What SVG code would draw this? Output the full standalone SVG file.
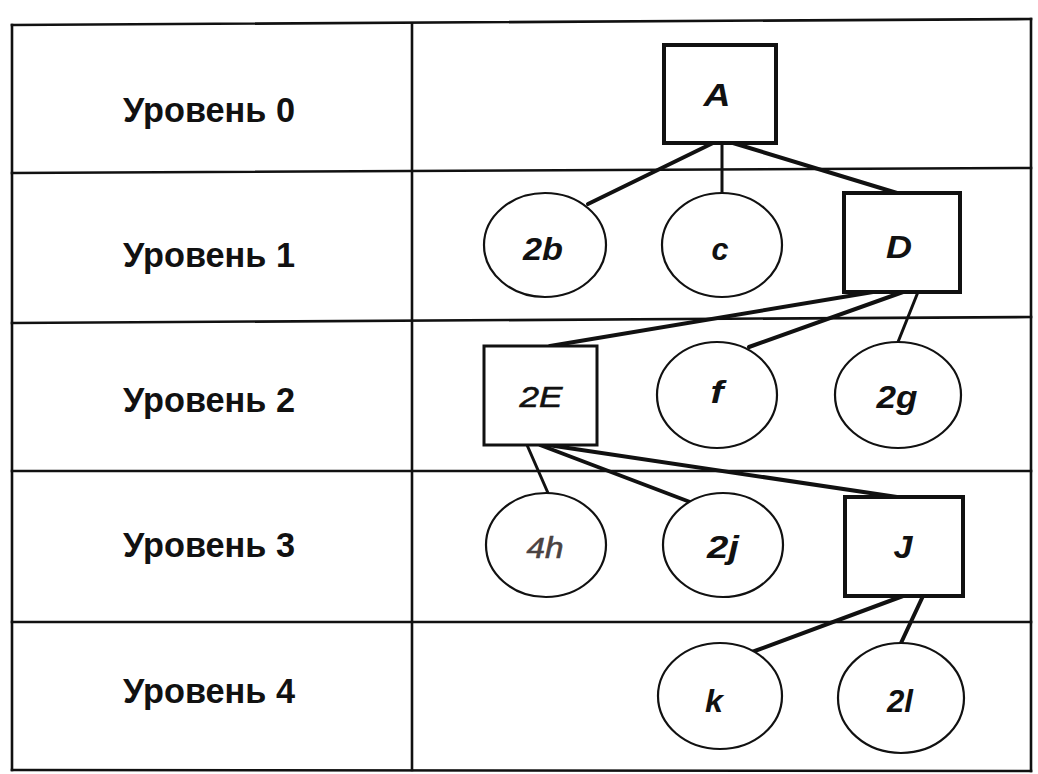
<svg xmlns="http://www.w3.org/2000/svg" width="1038" height="774" viewBox="0 0 1038 774">
  <style>
    .grid { stroke: #111; stroke-width: 2.6; fill: none; stroke-linecap: square; }
    .edge { stroke: #111; stroke-width: 4; fill: none; stroke-linecap: round; }
    .edge.thin { stroke-width: 3; }
    .box { fill: #fff; stroke: #111; stroke-width: 4; }
    .box.light { stroke-width: 3; }
    .oval { fill: #fff; stroke: #111; stroke-width: 2.2; }
    .level { font-family: "Liberation Sans", Arial, sans-serif; font-size: 35px; font-weight: bold; fill: #111; }
    .lbl { font-family: "Liberation Sans", Arial, sans-serif; font-size: 31px; font-weight: bold; font-style: italic; fill: #111; text-anchor: middle; }
    .lbl.plain { font-weight: normal; font-size: 29px; stroke: #111; stroke-width: 0.6; }
    .lbl.grey { fill: #4a4242; stroke: #4a4242; }
  </style>
  <rect width="1038" height="774" fill="#fff"/>

  <!-- table frame and level rows -->
  <g id="table">
    <line class="grid" x1="12" y1="25" x2="1031" y2="19"/>
    <line class="grid" x1="12" y1="25" x2="12" y2="770"/>
    <line class="grid" x1="1031" y1="19" x2="1031" y2="771"/>
    <line class="grid" x1="12" y1="770" x2="1031" y2="771"/>
    <line class="grid" x1="412" y1="24" x2="412" y2="770"/>
    <line class="grid" x1="12" y1="173" x2="1031" y2="168"/>
    <line class="grid" x1="12" y1="323" x2="1031" y2="317"/>
    <line class="grid" x1="12" y1="471" x2="1031" y2="471"/>
    <line class="grid" x1="12" y1="622" x2="1031" y2="622"/>
  </g>

  <g id="levels">
    <text class="level" x="123" y="122" textLength="172" lengthAdjust="spacingAndGlyphs">Уровень 0</text>
    <text class="level" x="123" y="267" textLength="172" lengthAdjust="spacingAndGlyphs">Уровень 1</text>
    <text class="level" x="123" y="412" textLength="172" lengthAdjust="spacingAndGlyphs">Уровень 2</text>
    <text class="level" x="123" y="557" textLength="172" lengthAdjust="spacingAndGlyphs">Уровень 3</text>
    <text class="level" x="123" y="703" textLength="172" lengthAdjust="spacingAndGlyphs">Уровень 4</text>
  </g>

  <!-- tree edges -->
  <g id="connectors">
    <line class="edge" x1="713" y1="143" x2="588" y2="204"/>
    <line class="edge thin" x1="722" y1="143" x2="722" y2="193"/>
    <line class="edge" x1="733" y1="143" x2="897" y2="193"/>
    <line class="edge" x1="873" y1="292" x2="550" y2="346"/>
    <line class="edge" x1="903" y1="292" x2="749" y2="347"/>
    <line class="edge thin" x1="918" y1="292" x2="898" y2="342"/>
    <line class="edge thin" x1="527" y1="445" x2="548" y2="493"/>
    <line class="edge" x1="540" y1="445" x2="690" y2="502"/>
    <line class="edge" x1="548" y1="445" x2="897" y2="497"/>
    <line class="edge" x1="903" y1="596" x2="752" y2="652"/>
    <line class="edge" x1="923" y1="596" x2="901" y2="643"/>
  </g>

  <!-- tree nodes -->
  <g id="node-A">
    <rect class="box" x="664" y="45" width="112" height="98"/>
    <text class="lbl" x="717" y="106" textLength="27" lengthAdjust="spacingAndGlyphs">A</text>
  </g>
  <g id="node-2b">
    <ellipse class="oval" cx="545" cy="245" rx="61" ry="52"/>
    <text class="lbl" x="543" y="260" textLength="40" lengthAdjust="spacingAndGlyphs">2b</text>
  </g>
  <g id="node-c">
    <ellipse class="oval" cx="722" cy="245" rx="60" ry="52"/>
    <text class="lbl" x="720" y="260" textLength="17" lengthAdjust="spacingAndGlyphs">c</text>
  </g>
  <g id="node-D">
    <rect class="box" x="844" y="193" width="116" height="99"/>
    <text class="lbl" x="899" y="258" textLength="26" lengthAdjust="spacingAndGlyphs">D</text>
  </g>
  <g id="node-2E">
    <rect class="box light" x="484" y="346" width="113" height="99"/>
    <text class="lbl plain" x="541" y="407" textLength="43" lengthAdjust="spacingAndGlyphs">2E</text>
  </g>
  <g id="node-f">
    <ellipse class="oval" cx="717" cy="395" rx="60" ry="53"/>
    <text class="lbl" x="717" y="403" textLength="13" lengthAdjust="spacingAndGlyphs">f</text>
  </g>
  <g id="node-2g">
    <ellipse class="oval" cx="898" cy="395" rx="63" ry="53"/>
    <text class="lbl" x="897" y="408" textLength="41" lengthAdjust="spacingAndGlyphs">2g</text>
  </g>
  <g id="node-4h">
    <ellipse class="oval" cx="546" cy="545" rx="60" ry="52"/>
    <text class="lbl plain grey" x="545" y="558" textLength="37" lengthAdjust="spacingAndGlyphs">4h</text>
  </g>
  <g id="node-2j">
    <ellipse class="oval" cx="723" cy="545" rx="60" ry="52"/>
    <text class="lbl" x="723" y="558" textLength="32" lengthAdjust="spacingAndGlyphs">2j</text>
  </g>
  <g id="node-J">
    <rect class="box" x="845" y="497" width="118" height="99"/>
    <text class="lbl" x="903" y="558" textLength="19" lengthAdjust="spacingAndGlyphs">J</text>
  </g>
  <g id="node-k">
    <ellipse class="oval" cx="720" cy="696" rx="62" ry="53"/>
    <text class="lbl" x="714" y="712" textLength="18" lengthAdjust="spacingAndGlyphs">k</text>
  </g>
  <g id="node-2l">
    <ellipse class="oval" cx="901" cy="698" rx="63" ry="55"/>
    <text class="lbl" x="900" y="712" textLength="26" lengthAdjust="spacingAndGlyphs">2l</text>
  </g>
</svg>
